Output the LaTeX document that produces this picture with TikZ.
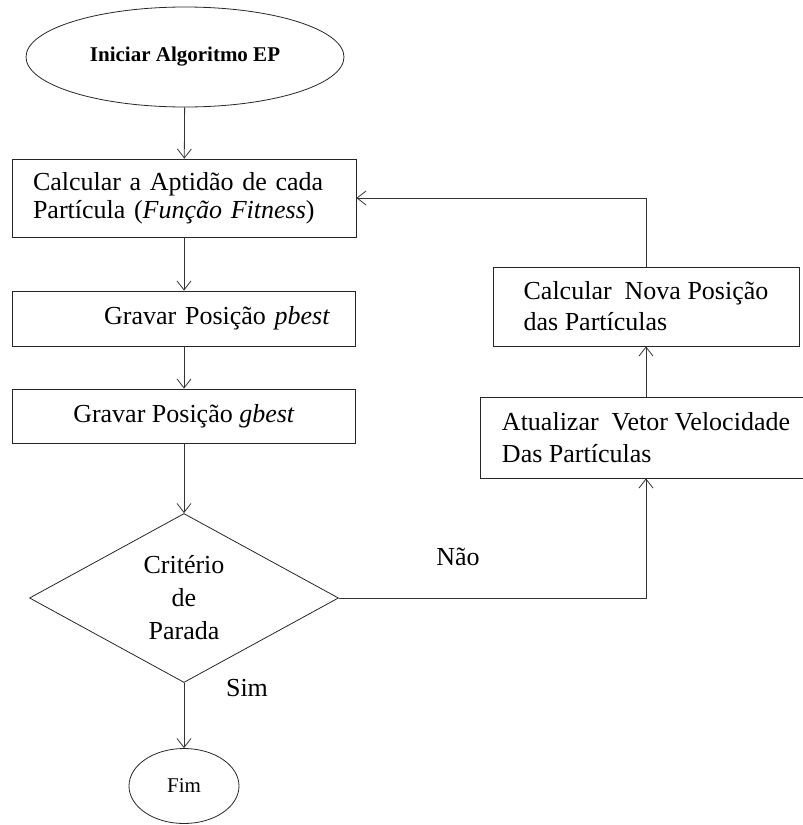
\documentclass[tikz,border=0pt]{standalone}
\usepackage{fontspec}
\setmainfont{Liberation Serif}
\usetikzlibrary{arrows.meta, positioning, shapes.geometric}

\tikzset{
	process/.style={draw=black!85, line width=0.8pt, rectangle, inner sep=0pt},
	terminal/.style={draw=black!85, line width=0.8pt, ellipse, inner sep=0pt},
	decision/.style={draw=black!85, line width=0.8pt, diamond, aspect=1.83, inner sep=0pt, align=center, font=\fontsize{26}{33}\selectfont},
	flow/.style={draw=black!80, line width=0.8pt, -{Straight Barb[length=9pt,width=14pt]}},
}

\begin{document}
\begin{tikzpicture}[x=1pt, y=-1pt, font=\fontsize{26}{30}\selectfont]
	\path[use as bounding box] (0,0) rectangle (803,825);
	\clip (0,0) rectangle (803,825);

	% Start
	\node (start) at (185,57) [terminal, minimum width=318pt, minimum height=100pt, font=\bfseries\fontsize{21}{25}\selectfont] {Iniciar Algoritmo EP};

	% Left column
	\node (fitness) at (184,198) [process, minimum width=344pt, minimum height=78pt, text width=302pt, align=left, font=\fontsize{26}{28}\selectfont] {Calcular a Aptidão de cada\\Partícula (\textit{Função Fitness})};
	\node (pbest) at (184,318.5) [process, minimum width=343pt, minimum height=55pt, text width=292pt, align=right] {Gravar Posição \textit{pbest}};
	\node (gbest) at (184,416) [process, minimum width=343pt, minimum height=54pt] {Gravar Posição \textit{gbest}};
	\node (crit) at (184,598) [decision, minimum width=309pt, minimum height=169pt] {Critério\\de\\Parada};
	\node (fim) at (184,786) [terminal, minimum width=110pt, minimum height=75pt, font=\fontsize{21}{25}\selectfont] {Fim};

	% Right column
	\node (vel) at (646,437.5) [process, minimum width=332pt, minimum height=81pt, align=left, font=\fontsize{26}{32}\selectfont] {Atualizar\ \ Vetor Velocidade\\Das Partículas};
	\node (pos) at (646,306.5) [process, minimum width=306pt, minimum height=79pt, align=left, font=\fontsize{26}{31}\selectfont] {Calcular\ \ Nova Posição\\das Partículas};

	% Labels
	\node (sim) at (247,688) {Sim};
	\node (nao) at (458,557) {Não};

	% Flow
	\draw[flow] (start) -- (fitness);
	\draw[flow] (fitness) -- (pbest);
	\draw[flow] (pbest) -- (gbest);
	\draw[flow] (gbest) -- (crit);
	\draw[flow] (crit) -- (fim);
	\draw[flow] (crit.east) -| (vel.south);
	\draw[flow] (vel) -- (pos);
	\draw[flow] (pos.north) |- (fitness.east);
\end{tikzpicture}
\end{document}
